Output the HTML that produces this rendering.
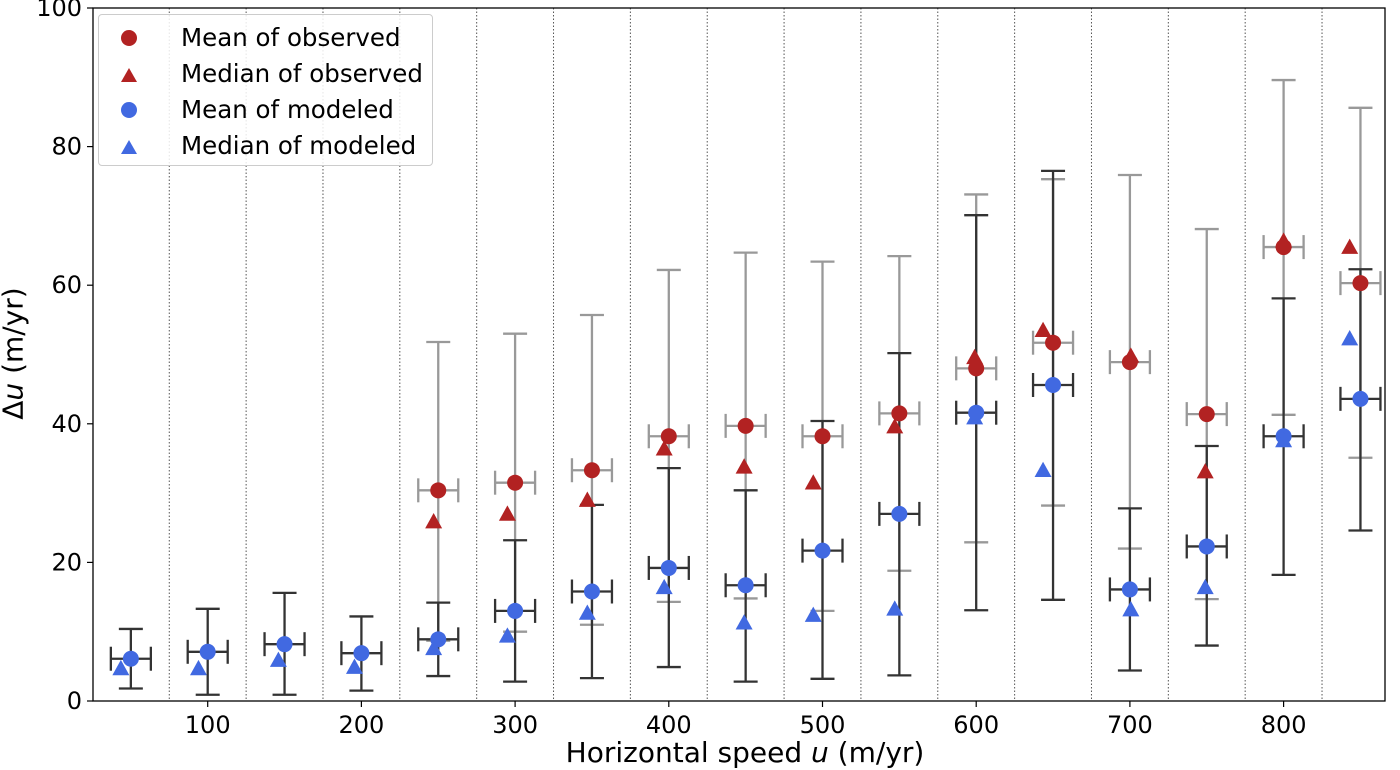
<!DOCTYPE html>
<html><head><meta charset="utf-8"><style>
html,body{margin:0;padding:0;background:#fff;width:1400px;height:770px;overflow:hidden;position:relative;}
svg text{font-family:"DejaVu Sans","Liberation Sans",sans-serif;fill:#000;}
</style></head><body>
<svg id="chart" width="1400" height="770" xmlns="http://www.w3.org/2000/svg" style="position:absolute;left:0;top:0;"></svg>
<script>
const bins=[50,100,150,200,250,300,350,400,450,500,550,600,650,700,750,800,850];
const medX=[43.5,94,146,195.5,247,295,347,397,449,494,547,599,643.5,700.6,749,800,843];
const obsMean=[null,null,null,null,30.4,31.5,33.3,38.2,39.7,38.2,41.5,48.0,51.7,48.9,41.4,65.5,60.3];
const obsMed=[null,null,null,null,25.9,27.0,29.0,36.4,33.8,31.5,39.6,49.6,53.5,49.8,33.1,66.4,65.5];
const obsHi=[null,null,null,null,51.8,53.0,55.7,62.2,64.7,63.4,64.2,73.1,75.3,75.9,68.1,89.6,85.6];
const obsLo=[null,null,null,null,8.7,10.0,11.0,14.3,14.8,13.0,18.8,22.9,28.2,22.0,14.7,41.3,35.1];
const modMean=[6.1,7.1,8.2,6.9,8.9,13.0,15.8,19.2,16.7,21.7,27.0,41.6,45.6,16.1,22.3,38.2,43.6];
const modMed=[4.7,4.7,5.9,4.9,7.6,9.4,12.7,16.4,11.3,12.4,13.3,40.9,33.3,13.2,16.4,37.6,52.3];
const modHi=[10.4,13.3,15.6,12.2,14.2,23.2,28.3,33.6,30.4,40.4,50.2,70.1,76.5,27.8,36.8,58.1,62.3];
const modLo=[1.8,0.9,0.9,1.5,3.6,2.8,3.3,4.9,2.8,3.2,3.7,13.1,14.6,4.4,8.0,18.2,24.6];
const xTicks=[100,200,300,400,500,600,700,800];
const yTicks=[0,20,40,60,80,100];
const L=93,R=1385,T=8,B=701;
const sx=v=>54+v*1.537, sy=v=>B-v*6.93;
const svg=document.getElementById('chart');const NS='http://www.w3.org/2000/svg';
function mk(t,a,p){const e=document.createElementNS(NS,t);for(const k in a)e.setAttribute(k,a[k]);(p||svg).appendChild(e);return e;}
const defs=mk('defs',{});
const cp=mk('clipPath',{id:'plotclip'},defs);
mk('rect',{x:L,y:T,width:R-L,height:B-T},cp);
const plot=mk('g',{'clip-path':'url(#plotclip)'});


const gDiv=mk('g',{},plot);


for(let i=0;i<bins.length-1;i++){const x=sx(bins[i]+25);mk('line',{x1:x,x2:x,y1:T,y2:B,stroke:'#555','stroke-width':1,'stroke-dasharray':'1.5,2'},gDiv);}
function errbar(x,y,lo,hi,col,g){
  const cw=12,xe=20;
  mk('line',{x1:x,x2:x,y1:sy(lo),y2:sy(hi),stroke:col,'stroke-width':2.3},g);
  mk('line',{x1:x-cw,x2:x+cw,y1:sy(lo),y2:sy(lo),stroke:col,'stroke-width':2.3},g);
  mk('line',{x1:x-cw,x2:x+cw,y1:sy(hi),y2:sy(hi),stroke:col,'stroke-width':2.3},g);
  mk('line',{x1:x-xe,x2:x+xe,y1:sy(y),y2:sy(y),stroke:col,'stroke-width':2.3},g);
  mk('line',{x1:x-xe,x2:x-xe,y1:sy(y)-12,y2:sy(y)+12,stroke:col,'stroke-width':2.3},g);
  mk('line',{x1:x+xe,x2:x+xe,y1:sy(y)-12,y2:sy(y)+12,stroke:col,'stroke-width':2.3},g);
}
function tri(x,y,col,g){const s=8.5;return mk('polygon',{points:`${x},${y-s} ${x-s},${y+s*0.8} ${x+s},${y+s*0.8}`,fill:col},g);}
const RED='#b22222',BLUE='#4169e1';
bins.forEach((b,i)=>{
  const g=mk('g',{},plot);
  
  
  const x=sx(b);
  if(obsMean[i]!=null)errbar(x,obsMean[i],obsLo[i],obsHi[i],'#999',g);
  errbar(x,modMean[i],modLo[i],modHi[i],'#333',g);
  if(obsMean[i]!=null){
    const c=mk('circle',{cx:x,cy:sy(obsMean[i]),r:8,fill:RED},g);
    
    
    const t=tri(sx(medX[i]),sy(obsMed[i]),RED,g);
    
    
  }
  const c2=mk('circle',{cx:x,cy:sy(modMean[i]),r:8,fill:BLUE},g);
  
  
  const t2=tri(sx(medX[i]),sy(modMed[i]),BLUE,g);
  
  
});
const fr=mk('rect',{x:L,y:T,width:R-L,height:B-T,fill:'none',stroke:'#000','stroke-width':1.3});


xTicks.forEach(v=>{const x=sx(v);mk('line',{x1:x,x2:x,y1:B,y2:B+6,stroke:'#000','stroke-width':1.2});
 const t=mk('text',{x:x,y:B+32,'text-anchor':'middle','font-size':24});t.textContent=v;
 
 });
yTicks.forEach(v=>{const y=sy(v);mk('line',{x1:L-6,x2:L,y1:y,y2:y,stroke:'#000','stroke-width':1.2});
 const t=mk('text',{x:L-11,y:y+8,'text-anchor':'end','font-size':24});t.textContent=v;
 
 });
</script>
<div style="position:absolute;left:245px;top:736px;width:1000px;text-align:center;font:28px 'DejaVu Sans','Liberation Sans',sans-serif;">Horizontal speed <i>u</i> (m/yr)</div>
<div style="position:absolute;left:-62px;top:337px;width:150px;text-align:center;transform:rotate(-90deg);font:28px 'DejaVu Sans','Liberation Sans',sans-serif;">Δ<i>u</i> (m/yr)</div>
<div style="position:absolute;left:98px;top:14px;width:333px;height:150px;border:1px solid #ccc;border-radius:4px;background:rgba(255,255,255,0.85);font:24.5px 'DejaVu Sans','Liberation Sans',sans-serif;line-height:28px;">
 <div style="position:absolute;left:22px;top:9px;white-space:nowrap;"><span style="display:inline-block;width:16px;height:16px;border-radius:50%;background:#b22222;margin-right:44px;"></span>Mean of observed</div>
 <div style="position:absolute;left:22px;top:45px;white-space:nowrap;"><span style="display:inline-block;width:0;height:0;border-left:8px solid transparent;border-right:8px solid transparent;border-bottom:14px solid #b22222;margin-right:44px;"></span>Median of observed</div>
 <div style="position:absolute;left:22px;top:81px;white-space:nowrap;"><span style="display:inline-block;width:16px;height:16px;border-radius:50%;background:#4169e1;margin-right:44px;"></span>Mean of modeled</div>
 <div style="position:absolute;left:22px;top:117px;white-space:nowrap;"><span style="display:inline-block;width:0;height:0;border-left:8px solid transparent;border-right:8px solid transparent;border-bottom:14px solid #4169e1;margin-right:44px;"></span>Median of modeled</div>
</div>
</body></html>
